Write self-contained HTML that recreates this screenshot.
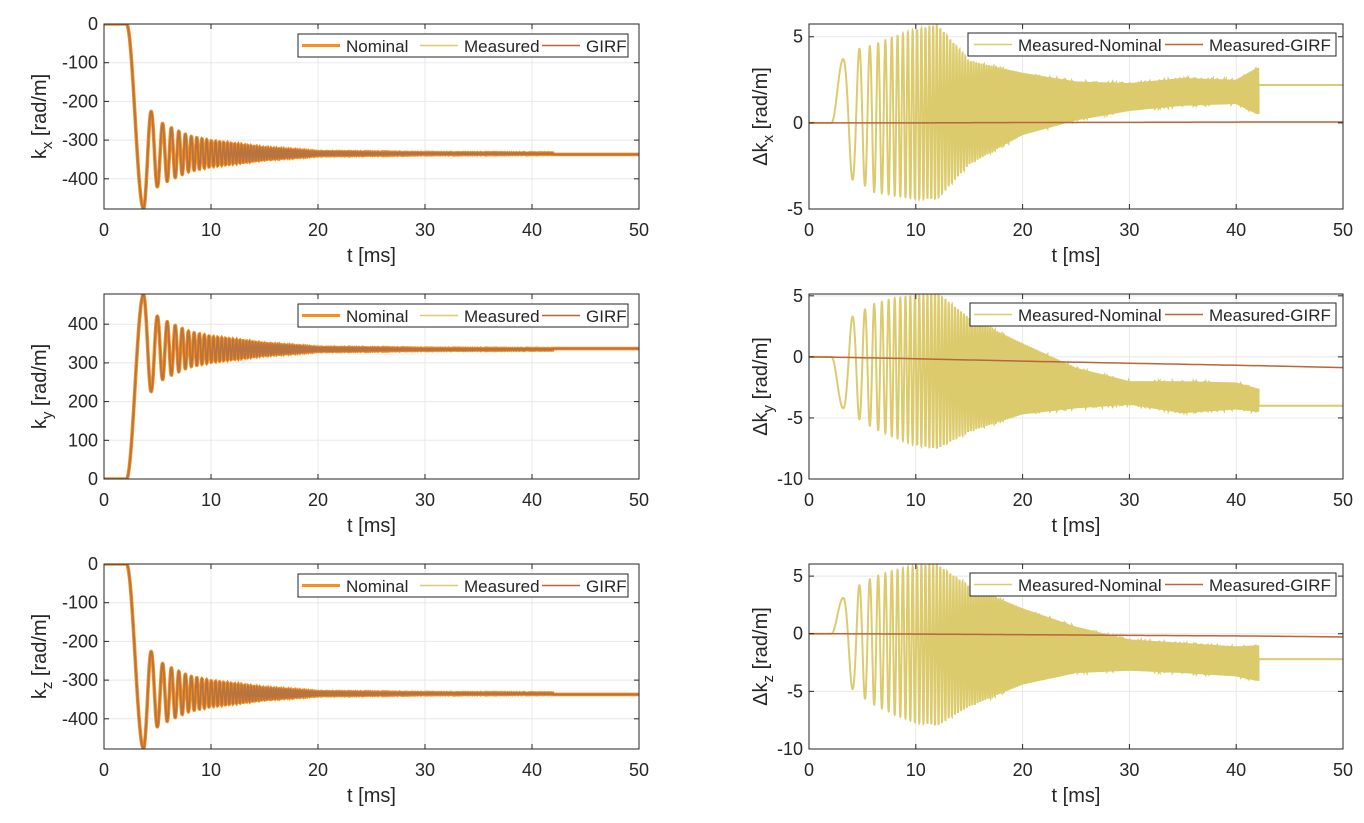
<!DOCTYPE html>
<html><head><meta charset="utf-8"><style>
body{margin:0;background:#fff;}
svg text{font-family:"Liberation Sans",Arial,sans-serif;fill:#262626;}
</style></head><body>
<svg id="fig" width="1364" height="818" viewBox="0 0 1364 818" xmlns="http://www.w3.org/2000/svg"></svg>
<script>
// ---- data ----
const xTicks = [0,10,20,30,40,50];
const leftYTicksNeg = [0,-100,-200,-300,-400];
const leftYTicksPos = [0,100,200,300,400];
const rightYTicks1 = [5,0,-5];
const rightYTicks23 = [5,0,-5,-10];
// chirp parameters (kHz, kHz/ms) read from oscillation spacing
const chirpStart = [3.2];
const chirpF0 = [0.44];
const chirpRate = [0.29];
// left trajectory envelope
const envLT = [3.7,4.5,5,6,8,10,15,20,30,42];
const envLA = [142,105,85,70,45,33,15,5,2,1];
const kCenter = [-335, 335, -335];
const kFinal = [-337, 337, -337];
const kPeak = [-477, 477, -477];
// right difference envelopes
const envRT = [3.2,4.1,4.7,6,8,10,12,15,20,25,30,35,40,42];
const dkxTop = [3.7,4.0,4.3,4.5,5.0,5.4,5.7,3.6,2.9,2.4,2.3,2.6,2.5,3.2];
const dkxBot = [-3.3,-3.3,-3.4,-4.0,-4.2,-4.4,-4.4,-2.4,-0.7,0.15,0.7,1.0,1.1,0.5];
const dkyTop = [3.3,3.3,3.6,4.3,4.8,5.0,5.2,3.2,1.1,-0.9,-2.0,-2.0,-2.1,-2.6];
const dkyBot = [-4.2,-4.6,-5.1,-5.8,-6.6,-7.2,-7.5,-6.1,-4.7,-4.2,-3.9,-4.6,-4.3,-4.5];
const dkzTop = [3.1,3.6,4.2,4.9,5.5,5.9,6.0,4.1,2.2,0.6,-0.5,-0.8,-1.1,-1.0];
const dkzBot = [-4.8,-4.8,-5.3,-6.1,-7.0,-7.7,-7.9,-6.3,-4.4,-3.4,-3.2,-3.4,-3.7,-4.1];
const dkSign = [1,-1,1];
const dkFinal = [2.2,-4.0,-2.2];
const girfT = [0,2,10,20,30,42,50];
const girfX = [0,0,0,0.02,0.03,0.05,0.05];
const girfY = [0,-0.02,-0.15,-0.35,-0.52,-0.72,-0.88];
const girfZ = [0,0,-0.03,-0.08,-0.14,-0.2,-0.28];

// ---- helpers ----
const NS='http://www.w3.org/2000/svg';
const svg=document.getElementById('fig');
function mk(tag,attrs,parent){const e=document.createElementNS(NS,tag);for(const k in attrs)e.setAttribute(k,attrs[k]);(parent||svg).appendChild(e);return e;}
function interp(ts,vs,t){if(t<=ts[0])return vs[0];for(let i=1;i<ts.length;i++){if(t<=ts[i]){const f=(t-ts[i-1])/(ts[i]-ts[i-1]);return vs[i-1]+f*(vs[i]-vs[i-1]);}}return vs[vs.length-1];}
function cycles(t){const d=t-chirpStart[0];return chirpF0[0]*d+0.5*chirpRate[0]*d*d;}
const X0L=104,X1L=639,X0R=809,X1R=1343;
const rowTop=[24,294,564],rowBot=[209,479,749];

function axes(id,x0,x1,y0,y1,ymin,ymax,yticks,ytitle,sub,delta){
  const g=mk('g',{});
  
  
  const sx=t=>x0+(t/50)*(x1-x0);
  const sy=v=>y1-(v-ymin)/(ymax-ymin)*(y1-y0);
  mk('rect',{x:x0,y:y0,width:x1-x0,height:y1-y0,fill:'#fff'},g);
  xTicks.forEach(t=>{const l=mk('line',{x1:sx(t),x2:sx(t),y1:y0,y2:y1,stroke:'#e8e8e8','stroke-width':1},g);});
  yticks.forEach(v=>{const l=mk('line',{x1:x0,x2:x1,y1:sy(v),y2:sy(v),stroke:'#e8e8e8','stroke-width':1},g);});
  const cid='clip-'+id;
  const cp=mk('clipPath',{id:cid},g);mk('rect',{x:x0,y:y0,width:x1-x0,height:y1-y0},cp);
  const plot=mk('g',{'clip-path':'url(#'+cid+')'},g);
  xTicks.forEach(t=>{
    mk('line',{x1:sx(t),x2:sx(t),y1:y1,y2:y1-5,stroke:'#262626'},g);
    mk('line',{x1:sx(t),x2:sx(t),y1:y0,y2:y0+5,stroke:'#262626'},g);
    const tx=mk('text',{x:sx(t),y:y1+27,'font-size':18,'text-anchor':'middle'},g);tx.textContent=t;
    
  });
  yticks.forEach(v=>{
    mk('line',{x1:x0,x2:x0+5,y1:sy(v),y2:sy(v),stroke:'#262626'},g);
    mk('line',{x1:x1,x2:x1-5,y1:sy(v),y2:sy(v),stroke:'#262626'},g);
    const tx=mk('text',{x:x0-6,y:sy(v)+6,'font-size':18,'text-anchor':'end'},g);tx.textContent=v;
    
  });
  const xt=mk('text',{x:(x0+x1)/2,y:y1+53,'font-size':20,'text-anchor':'middle'},g);xt.textContent='t [ms]';
  
  const ytx=x0-(delta?42:58), yty=(y0+y1)/2;
  const yt=mk('text',{x:ytx,y:yty,'font-size':20,'text-anchor':'middle',transform:'rotate(-90 '+ytx+' '+yty+')'},g);
  
  yt.innerHTML=(delta?'Δ':'')+'k<tspan dy="6" font-size="15">'+sub+'</tspan><tspan dy="-6"> [rad/m]</tspan>';
  return {g,plot,sx,sy,frame:()=>mk('rect',{x:x0,y:y0,width:x1-x0,height:y1-y0,fill:'none',stroke:'#262626','stroke-width':1},g)};
}
function pathFrom(ax,fn,t0,t1,dt){
  let d='';for(let t=t0;t<=t1+1e-9;t+=dt){const v=fn(t);d+=(d?'L':'M')+ax.sx(t).toFixed(2)+','+ax.sy(v).toFixed(2);}return d;
}
function leftSignal(i){
  const c37=cycles(3.7);
  return t=>{
    if(t<2.1)return 0;
    if(t<3.7)return kPeak[i]*(1-Math.cos(Math.PI*(t-2.1)/1.6))/2;
    if(t>42)return kFinal[i];
    const A=interp(envLT,envLA,t);
    const sgn=kPeak[i]<0?-1:1;
    return kCenter[i]+sgn*A*Math.cos(2*Math.PI*(cycles(t)-c37));
  };
}
function rightSignal(i,top,bot){
  return t=>{
    const s=dkSign[i];
    const ext=s>0?top[0]:bot[0];
    if(t<2.1)return 0;
    if(t<3.2)return ext*(1-Math.cos(Math.PI*(t-2.1)/1.1))/2;
    if(t>42.1)return dkFinal[i];
    const tp=interp(envRT,top,t),bt=interp(envRT,bot,t);
    return (tp+bt)/2+s*(tp-bt)/2*Math.cos(2*Math.PI*cycles(t));
  };
}
function legend(x,y,w,items){
  const g=mk('g',{});
  
  mk('rect',{x:x,y:y,width:w,height:23,fill:'#fff',stroke:'#262626','stroke-width':1},g);
  items.forEach(it=>{
    const e=mk('g',{},g);
    
    mk('line',{x1:it.lx,x2:it.lx+38,y1:y+11.5,y2:y+11.5,stroke:it.c,'stroke-width':it.w},e);
    const tx=mk('text',{x:it.lx+44,y:y+18,'font-size':17},e);tx.textContent=it.t;
  });
}
const cNom='#f7901e',cMeas='#dccb6c',cGirf='#b8643c';
const subs=['x','y','z'];
const dk=[[dkxTop,dkxBot],[dkyTop,dkyBot],[dkzTop,dkzBot]];
const girfs=[girfX,girfY,girfZ];
for(let i=0;i<3;i++){
  const neg=i!==1;
  const axL=axes('k'+subs[i]+'-plot',X0L,X1L,rowTop[i],rowBot[i],neg?-478:0,neg?0:478,neg?leftYTicksNeg:leftYTicksPos,'',subs[i],false);
  const sig=leftSignal(i);
  const d=pathFrom(axL,sig,0,50,0.01);
  let p=mk('path',{d:d,fill:'none',stroke:cNom,'stroke-width':3.6},axL.plot);
  
  p=mk('path',{d:d,fill:'none',stroke:cMeas,'stroke-width':1.4},axL.plot);
  
  p=mk('path',{d:d,fill:'none',stroke:'#b0653a','stroke-width':1.8,'stroke-opacity':0.85},axL.plot);
  
  axL.frame();
  legend(298,rowTop[i]+10,330,[{lx:302,t:'Nominal',c:cNom,w:3},{lx:420,t:'Measured',c:cMeas,w:1.5},{lx:542,t:'GIRF',c:cGirf,w:1.5}]);

  const yr=i===0?[-5,5.74]:(i===1?[-10,5.15]:[-10,6.05]);
  const axR=axes('dk'+subs[i]+'-plot',X0R,X1R,rowTop[i],rowBot[i],yr[0],yr[1],i===0?rightYTicks1:rightYTicks23,'',subs[i],true);
  const rs=rightSignal(i,dk[i][0],dk[i][1]);
  p=mk('path',{d:pathFrom(axR,rs,0,50,0.005),fill:'none',stroke:cMeas,'stroke-width':2},axR.plot);
  
  const gi=girfs[i];
  p=mk('path',{d:pathFrom(axR,t=>interp(girfT,gi,t),0,50,0.5),fill:'none',stroke:cGirf,'stroke-width':1.5},axR.plot);
  
  axR.frame();
  legend(i===0?968:970,rowTop[i]+9,i===0?368:366,[{lx:974,t:'Measured-Nominal',c:cMeas,w:1.5},{lx:1165,t:'Measured-GIRF',c:cGirf,w:1.5}]);
}
</script>
</body></html>
